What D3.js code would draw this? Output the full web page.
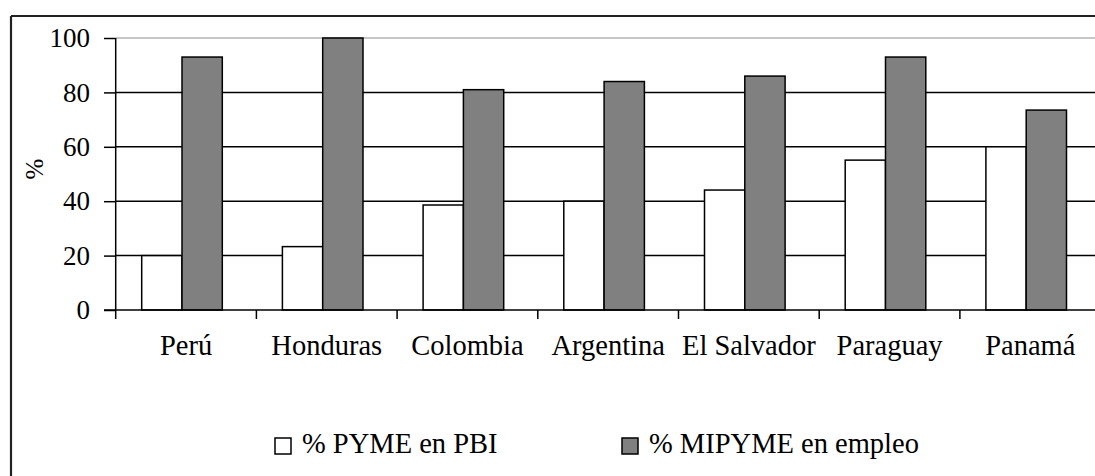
<!DOCTYPE html>
<html>
<head>
<meta charset="utf-8">
<script src="https://cdn.jsdelivr.net/npm/d3@7"></script>
<style>
  html, body { margin: 0; padding: 0; background: #fff; }
  svg { display: block; }
</style>
</head>
<body>
<svg id="chart" width="1095" height="476"></svg>
<script>
// Participación de las PYME en el PBI y de las MIPYME en el empleo (%)
const countries = ["Perú", "Honduras", "Colombia", "Argentina", "El Salvador", "Paraguay", "Panamá"];
const pymePBI = [20, 23.3, 38.6, 40, 44.1, 55.1, 60];
const mipymeEmpleo = [93, 100, 81, 84, 86, 93, 73.5];
const seriesNames = ["% PYME en PBI", "% MIPYME en empleo"];
const seriesColors = ["#ffffff", "#808080"];
const yTicks = [0, 20, 40, 60, 80, 100];

const FONT = "Liberation Serif, Times New Roman, serif";
const svg = d3.select("#chart");
const W = 1095, H = 476;

const plotLeft = 115.7, step = 140.7, plotBottom = 310, plotTop = 38;

// outer frame (left and top edges are visible)
svg.append("line").attr("x1", 11).attr("y1", 16).attr("x2", 11).attr("y2", H)
  .attr("stroke", "#222").attr("stroke-width", 2.2);
svg.append("line").attr("x1", 11).attr("y1", 16).attr("x2", W).attr("y2", 16)
  .attr("stroke", "#222").attr("stroke-width", 2.2);

const x0 = d3.scaleBand().domain(countries).range([plotLeft, plotLeft + step * countries.length]).padding(0);
const x1 = d3.scaleBand().domain(seriesNames).range([26, 26 + 80.6]).padding(0);
const y = d3.scaleLinear().domain([0, 100]).range([plotBottom, plotTop]);

// horizontal gridlines
svg.append("g").selectAll("line").data(yTicks.filter(d => d > 0)).join("line")
  .attr("x1", plotLeft).attr("x2", W)
  .attr("y1", d => y(d)).attr("y2", d => y(d))
  .attr("stroke", d => d === 100 ? "#b4b4b4" : "#000")
  .attr("stroke-width", 1.5);

// bars
const data = countries.map((c, i) => ({ country: c, values: [pymePBI[i], mipymeEmpleo[i]] }));
const groups = svg.append("g").selectAll("g").data(data).join("g")
  .attr("transform", d => `translate(${x0(d.country)},0)`);
groups.selectAll("rect")
  .data(d => d.values.map((v, j) => ({ key: seriesNames[j], value: v, color: seriesColors[j] })))
  .join("rect")
  .attr("x", d => x1(d.key))
  .attr("width", x1.bandwidth())
  .attr("y", d => y(d.value))
  .attr("height", d => plotBottom - y(d.value))
  .attr("fill", d => d.color)
  .attr("stroke", "#000")
  .attr("stroke-width", 1.5);

// y axis
const yAxis = d3.axisLeft(y).tickValues(yTicks).tickSize(11.7).tickPadding(14).tickFormat(d3.format("d"));
const gy = svg.append("g").attr("transform", `translate(${plotLeft},0)`).call(yAxis)
  .attr("font-family", FONT).attr("font-size", 27);
gy.select(".domain").remove();
gy.selectAll(".tick line").attr("stroke", "#000").attr("stroke-width", 1.5);
gy.selectAll("text").attr("fill", "#000");
svg.append("line").attr("x1", plotLeft).attr("x2", plotLeft).attr("y1", plotTop).attr("y2", plotBottom + 9)
  .attr("stroke", "#000").attr("stroke-width", 1.5);

// x axis baseline and category boundary ticks
svg.append("line").attr("x1", plotLeft - 11.7).attr("x2", W).attr("y1", plotBottom).attr("y2", plotBottom)
  .attr("stroke", "#000").attr("stroke-width", 1.5);
svg.append("g").selectAll("line").data(countries.slice(1)).join("line")
  .attr("x1", d => x0(d)).attr("x2", d => x0(d))
  .attr("y1", plotBottom).attr("y2", plotBottom + 9)
  .attr("stroke", "#000").attr("stroke-width", 1.5);

const xAxis = d3.axisBottom(x0).tickSize(0).tickPadding(25);
const gx = svg.append("g").attr("transform", `translate(0,${plotBottom})`).call(xAxis)
  .attr("font-family", FONT).attr("font-size", 28.5);
gx.select(".domain").remove();
gx.selectAll("text").attr("fill", "#000");

// y axis title
svg.append("text")
  .attr("transform", "translate(43,169) rotate(-90)")
  .attr("text-anchor", "middle")
  .attr("font-family", FONT)
  .attr("font-size", 25)
  .text("%");

// legend
const legendX = [275, 622];
const legend = svg.append("g").selectAll("g").data(seriesNames).join("g")
  .attr("transform", (d, i) => `translate(${legendX[i]},438)`);
legend.append("rect").attr("width", 16).attr("height", 16)
  .attr("fill", (d, i) => seriesColors[i]).attr("stroke", "#000").attr("stroke-width", 1.5);
legend.append("text").attr("x", 27).attr("y", 14.5)
  .attr("font-family", FONT)
  .attr("font-size", 28.5).text(d => d);
</script>
</body>
</html>
